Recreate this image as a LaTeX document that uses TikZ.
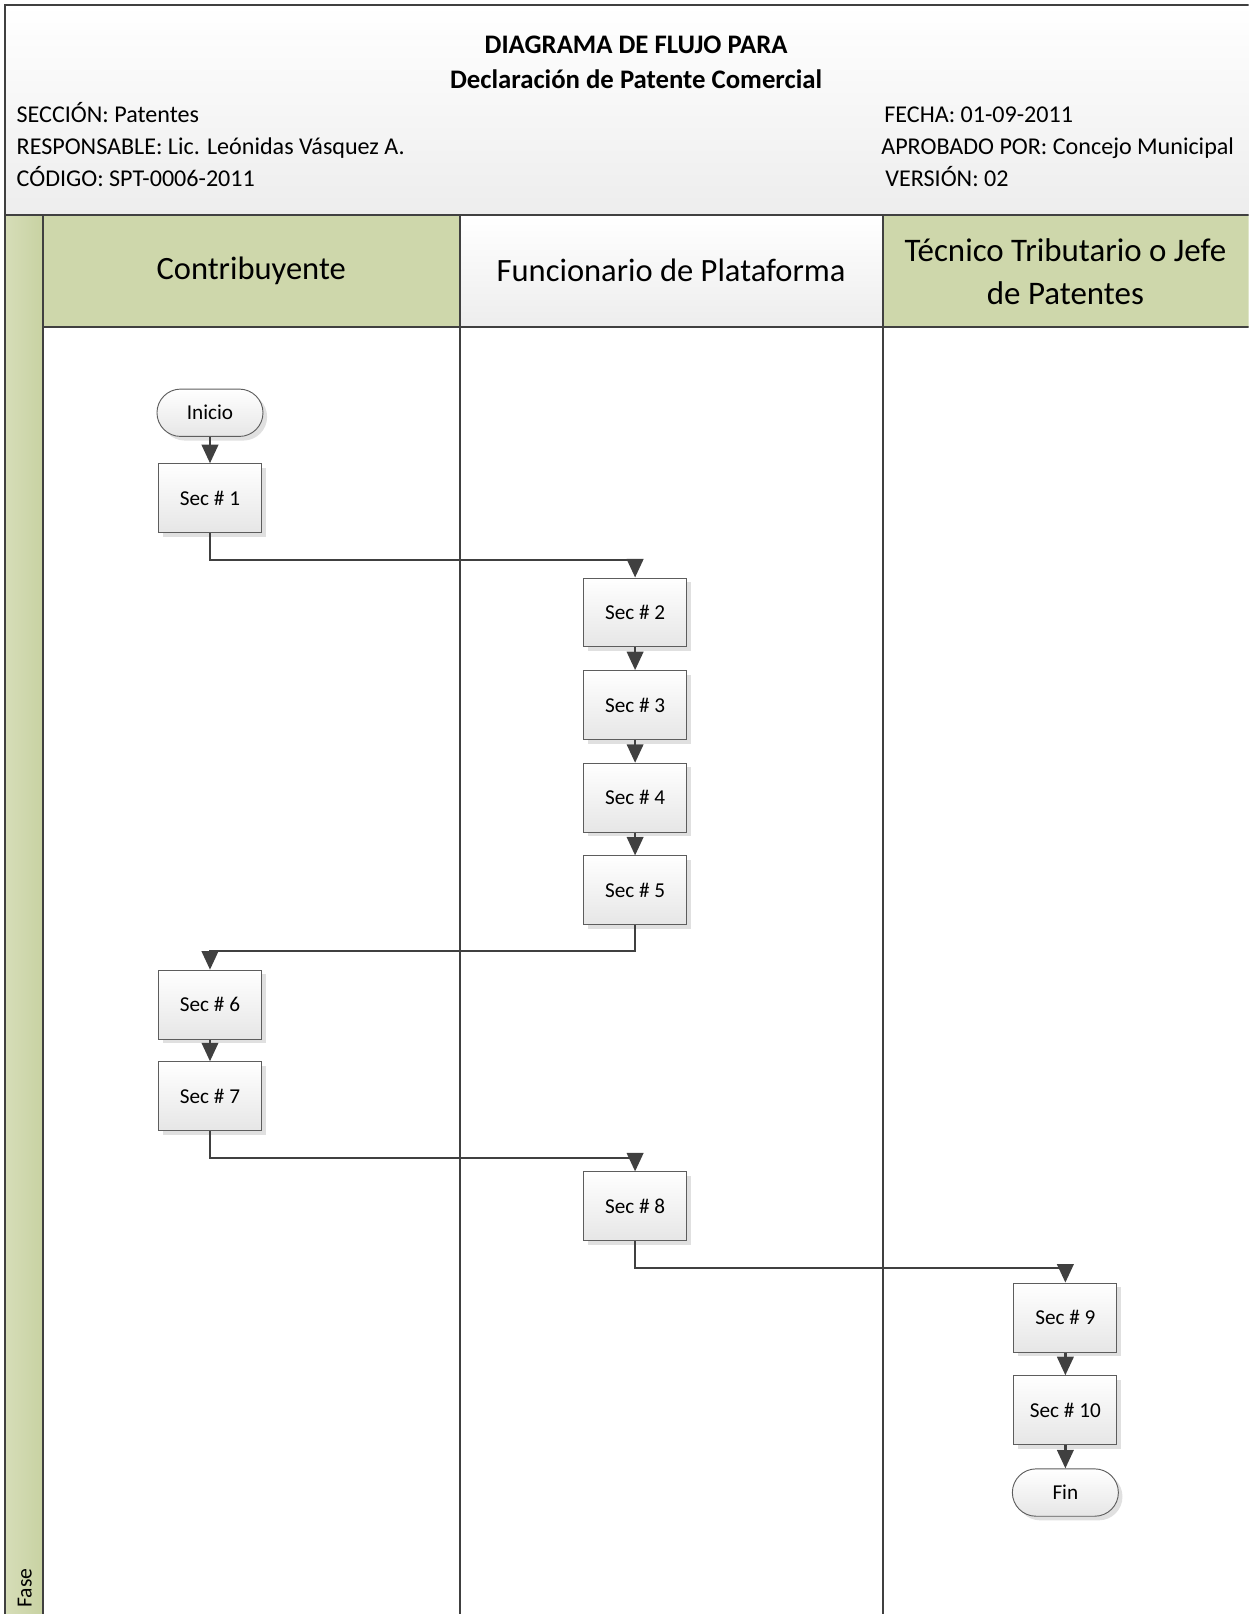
\documentclass[tikz,border=0pt]{standalone}
\usepackage{fontspec}
\setmainfont{Carlito}
\usetikzlibrary{shadows,arrows.meta}

\definecolor{lanegreen}{HTML}{CED7AB}
\definecolor{fasegreenL}{HTML}{D6DDB8}
\definecolor{fasegreenR}{HTML}{C8D2A2}
\definecolor{ink}{HTML}{404040}
\definecolor{boxlow}{HTML}{E6E6E6}
\definecolor{headlow}{HTML}{EDEDED}

\begin{document}
\begin{tikzpicture}[x=1pt,y=-1pt,
  frame/.style={draw=ink, line width=1.8pt},
  stepbox/.style={draw=ink!85, line width=0.9pt, minimum width=100pt, minimum height=67pt,
    top color=white, bottom color=boxlow,
    drop shadow={shadow xshift=4pt, shadow yshift=-4pt, fill=black!12, opacity=1},
    font=\fontsize{20.6}{24}\selectfont, inner sep=0pt},
  endbox/.style={stepbox, minimum width=103pt, minimum height=46pt, rounded corners=23pt},
  conn/.style={draw=ink, line width=2.4pt, -{Triangle[length=18pt,width=16pt]}},
  info/.style={anchor=base west, inner sep=0pt, font=\fontsize{23.4}{27}\selectfont},
  lanehead/.style={inner sep=0pt, align=center, font=\fontsize{31.6}{42}\selectfont}
]
\useasboundingbox (0,0) rectangle (1213,1568);
\begin{scope}
\clip (0,0) rectangle (1213,1568);

% header block
\shade[top color=white, bottom color=headlow] (5,5) rectangle (1230,209);
% phase strip
\shade[left color=fasegreenL, right color=fasegreenR] (5,209) rectangle (42,1590);
% lane headers
\fill[lanegreen] (42,209) rectangle (447,318);
\shade[top color=white, bottom color=headlow] (447,209) rectangle (858,318);
\fill[lanegreen] (858,209) rectangle (1230,318);

% frame and lane lines
\draw[frame] (1230,5) -- (5,5) -- (5,1590);
\draw[frame] (5,209) -- (1230,209);
\draw[frame] (42,318) -- (1230,318);
\draw[frame] (42,209) -- (42,1590);
\draw[frame] (447,209) -- (447,1590);
\draw[frame] (858,209) -- (858,1590);
\end{scope}

% header texts
\node[inner sep=0pt, align=center, font=\bfseries\fontsize{26}{34}\selectfont] (title) at (618,61)
  {DIAGRAMA DE FLUJO PARA\\Declaración de Patente Comercial};
\node[info] (seccion) at (16,119) {SECCIÓN: Patentes};
\node[info] (resp) at (16,150) {RESPONSABLE: Lic. Leónidas Vásquez A.};
\node[info] (codigo) at (16,181) {CÓDIGO: SPT-0006-2011};
\node[info] (fecha) at (859,119) {FECHA: 01-09-2011};
\node[info] (aprob) at (856,150) {APROBADO POR: Concejo Municipal};
\node[info] (version) at (860,181) {VERSIÓN: 02};

% lane titles
\node[lanehead] (l1) at (244,263) {Contribuyente};
\node[lanehead] (l2) at (652,263) {Funcionario de Plataforma};
\node[lanehead, font=\fontsize{32}{42}\selectfont] (l3) at (1035,264) {Técnico Tributario o Jefe\\de Patentes};
\node[anchor=west, rotate=90, inner sep=0pt, font=\fontsize{21}{24}\selectfont] (fase) at (24,1562) {Fase};

% process steps
\node[endbox] (inicio) at (204,401) {Inicio};
\node[stepbox] (s1) at (204,484) {Sec \# 1};
\node[stepbox] (s2) at (617,595) {Sec \# 2};
\node[stepbox] (s3) at (617,685) {Sec \# 3};
\node[stepbox] (s4) at (617,775) {Sec \# 4};
\node[stepbox] (s5) at (617,865) {Sec \# 5};
\node[stepbox] (s6) at (204,976) {Sec \# 6};
\node[stepbox] (s7) at (204,1065) {Sec \# 7};
\node[stepbox] (s8) at (617,1172) {Sec \# 8};
\node[stepbox] (s9) at (1035,1280) {Sec \# 9};
\node[stepbox] (s10) at (1035,1370) {Sec \# 10};
\node[endbox] (fin) at (1035,1450) {Fin};

% connectors
\draw[conn] (inicio) -- (s1);
\draw[conn] (s1.south) -- ++(0,26) -| (s2.north);
\draw[conn] (s2) -- (s3);
\draw[conn] (s3) -- (s4);
\draw[conn] (s4) -- (s5);
\draw[conn] (s5.south) -- ++(0,25) -| (s6.north);
\draw[conn] (s6) -- (s7);
\draw[conn] (s7.south) -- ++(0,26) -| (s8.north);
\draw[conn] (s8.south) -- ++(0,26) -| (s9.north);
\draw[conn] (s9) -- (s10);
\draw[conn] (s10) -- (fin);
\end{tikzpicture}
\end{document}
